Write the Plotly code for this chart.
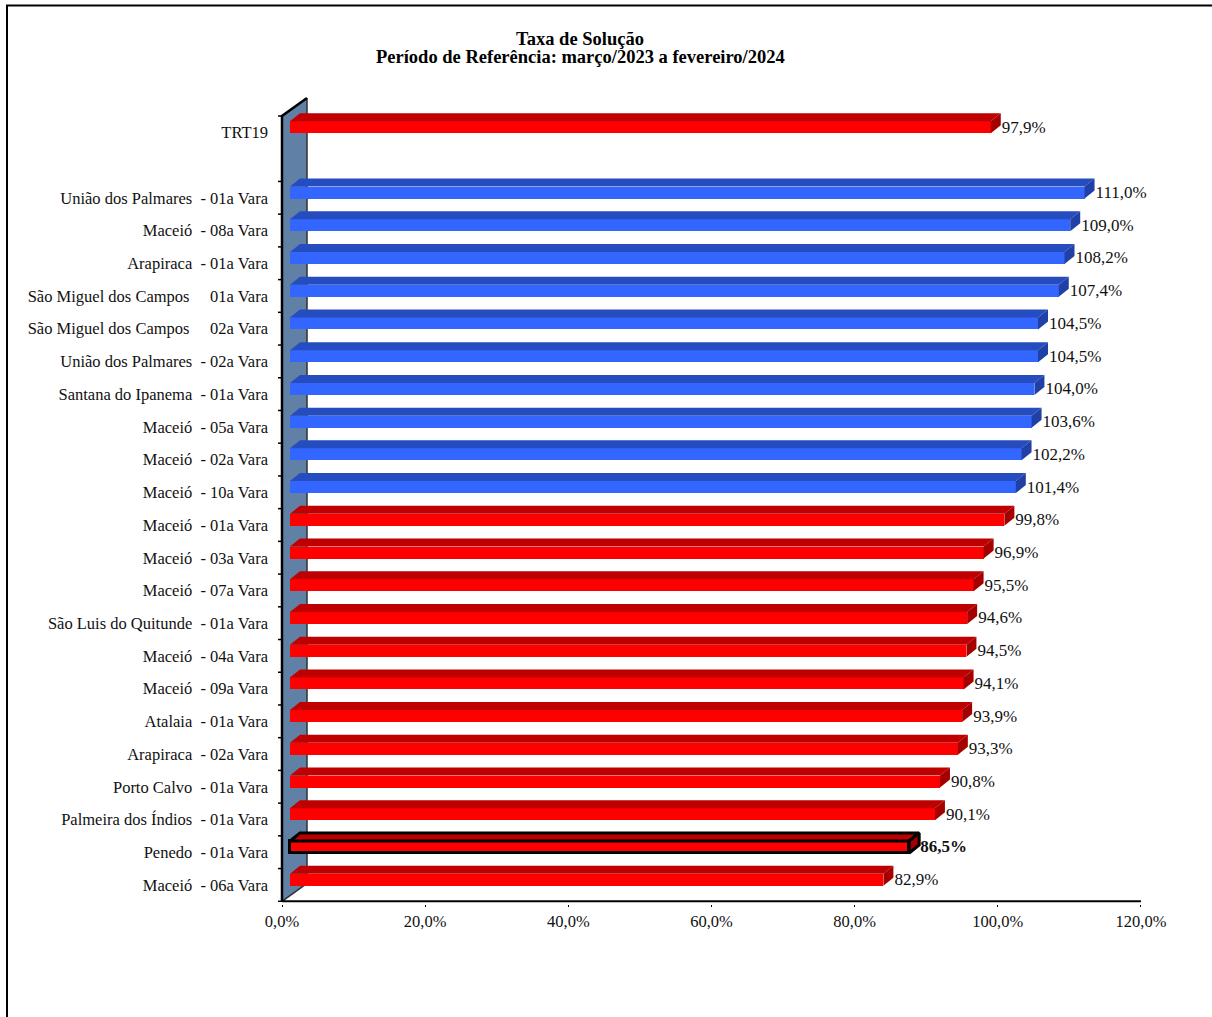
import plotly.graph_objects as go

# ---- data ----
categories = [
    "TRT19", "",
    "União dos Palmares\u00a0\u00a0- 01a Vara", "Maceió\u00a0\u00a0- 08a Vara", "Arapiraca\u00a0\u00a0- 01a Vara",
    "São Miguel dos Campos\u00a0\u00a0\u00a0\u00a0\u00a001a Vara", "São Miguel dos Campos\u00a0\u00a0\u00a0\u00a0\u00a002a Vara",
    "União dos Palmares\u00a0\u00a0- 02a Vara", "Santana do Ipanema\u00a0\u00a0- 01a Vara", "Maceió\u00a0\u00a0- 05a Vara",
    "Maceió\u00a0\u00a0- 02a Vara", "Maceió\u00a0\u00a0- 10a Vara", "Maceió\u00a0\u00a0- 01a Vara", "Maceió\u00a0\u00a0- 03a Vara",
    "Maceió\u00a0\u00a0- 07a Vara", "São Luis do Quitunde\u00a0\u00a0- 01a Vara", "Maceió\u00a0\u00a0- 04a Vara",
    "Maceió\u00a0\u00a0- 09a Vara", "Atalaia\u00a0\u00a0- 01a Vara", "Arapiraca\u00a0\u00a0- 02a Vara",
    "Porto Calvo\u00a0\u00a0- 01a Vara", "Palmeira dos Índios\u00a0\u00a0- 01a Vara", "Penedo\u00a0\u00a0- 01a Vara",
    "Maceió\u00a0\u00a0- 06a Vara",
]
values = [97.9, None, 111.0, 109.0, 108.2, 107.4, 104.5, 104.5, 104.0, 103.6, 102.2, 101.4,
          99.8, 96.9, 95.5, 94.6, 94.5, 94.1, 93.9, 93.3, 90.8, 90.1, 86.5, 82.9]
highlight = "Penedo\u00a0\u00a0- 01a Vara"
x_ticks = [0, 20, 40, 60, 80, 100, 120]
x_tick_labels = ["0,0%", "20,0%", "40,0%", "60,0%", "80,0%", "100,0%", "120,0%"]
title_lines = ["Taxa de Solução", "Período de Referência: março/2023 a fevereiro/2024"]

# ---- geometry: pixels -> data units ----
PX_X = 7.158
PX_Y = 32.72
WALL_DX, WALL_DY = 25 / PX_X, 18 / PX_Y
FRONT_DX, FRONT_DY = 8 / PX_X, 5.2 / PX_Y
DEPTH_DX, DEPTH_DY = 10 / PX_X, 8 / PX_Y
BAR_H = 12 / PX_Y
X0_PX, Y0_PX = 282, 116
L, R, T, B = 276, 1147, 90, 904
W, H = 1212, 1017
n = len(categories)
SERIF = "Liberation Serif"

pos = [i + 0.5 for i in range(n)]
ys = [p - FRONT_DY for p in pos]
idx = [i for i, v in enumerate(values) if v is not None]


def is_hi(i):
    return categories[i] == highlight


def col(i, red, blue):
    return blue if values[i] >= 100 else red


fig = go.Figure()

# front faces
fig.add_trace(go.Bar(
    orientation="h",
    y=[ys[i] for i in idx],
    x=[values[i] for i in idx],
    base=FRONT_DX,
    width=BAR_H,
    marker=dict(
        color=[col(i, "#FF0000", "#3366FF") for i in idx],
        line=dict(color="#000000", width=[3 if is_hi(i) else 0 for i in idx]),
    ),
    hoverinfo="skip", showlegend=False,
))


def faces(sel, face):
    xs, yy = [], []
    for i in sel:
        v = values[i]
        xa = FRONT_DX
        xb = FRONT_DX + v
        yt = ys[i] - BAR_H / 2
        yb = ys[i] + BAR_H / 2
        if face == "top":
            px = [xa, xb, xb + DEPTH_DX, xa + DEPTH_DX, xa]
            py = [yt, yt, yt - DEPTH_DY, yt - DEPTH_DY, yt]
        else:
            px = [xb, xb + DEPTH_DX, xb + DEPTH_DX, xb, xb]
            py = [yt, yt - DEPTH_DY, yb - DEPTH_DY, yb, yt]
        xs += px + [None]
        yy += py + [None]
    return xs, yy


groups = [
    ([i for i in idx if values[i] >= 100], "#264DBF", "#2040A5", None),
    ([i for i in idx if values[i] < 100 and not is_hi(i)], "#BF0000", "#A50000", None),
    ([i for i in idx if is_hi(i)], "#BF0000", "#A50000", "#000000"),
]
for sel, c_top, c_side, outline in groups:
    for face, c in (("top", c_top), ("side", c_side)):
        xs, yy = faces(sel, face)
        fig.add_trace(go.Scatter(
            x=xs, y=yy, mode="lines", fill="toself", fillcolor=c,
            line=dict(color=outline or c, width=3 if outline else 0),
            hoverinfo="skip", showlegend=False,
        ))

# value labels
LABEL_DX = 19 / PX_X
fig.add_trace(go.Scatter(
    x=[values[i] + LABEL_DX for i in idx],
    y=[pos[i] - 4 / PX_Y for i in idx],
    mode="text",
    text=[("<b>%s</b>" if is_hi(i) else "%s") % (f"{values[i]:.1f}".replace(".", ",") + "%") for i in idx],
    textposition="middle right",
    textfont=dict(family=SERIF, size=17, color="#111111"),
    hoverinfo="skip", showlegend=False, cliponaxis=False,
))

# axis lines and tick marks
tick_y = [b for b in range(n + 1) if b != 1]
tx, ty = [], []
for b in tick_y:
    tx += [-4 / PX_X, 0, None]
    ty += [b, b, None]
fig.add_trace(go.Scatter(x=tx, y=ty, mode="lines", line=dict(color="#000000", width=1.5),
                         hoverinfo="skip", showlegend=False))
fig.add_trace(go.Scatter(x=[0, x_ticks[-1]], y=[n, n], mode="lines", line=dict(color="#000000", width=2),
                         hoverinfo="skip", showlegend=False))

# back wall
wall_path = f"M 0 0 L {WALL_DX} {-WALL_DY} L {WALL_DX} {n - WALL_DY} L 0 {n} Z"
left_path = f"M 0 {n} L 0 0 L {WALL_DX} {-WALL_DY}"
right_path = f"M {WALL_DX} {-WALL_DY} L {WALL_DX} {n - WALL_DY}"
base_path = f"M 0 {n} L {WALL_DX} {n - WALL_DY}"
shapes = [
    dict(type="path", path=wall_path, xref="x", yref="y", fillcolor="#6080A5", line_width=0, layer="below"),
    dict(type="path", path=right_path, xref="x", yref="y", line=dict(color="#303030", width=1.5), layer="below"),
    dict(type="path", path=base_path, xref="x", yref="y", line=dict(color="#303030", width=1.5), layer="below"),
    dict(type="path", path=left_path, xref="x", yref="y", line=dict(color="#000000", width=2.5), layer="below"),
    # chart-area border, running off the page on the right and bottom
    dict(type="rect", xref="paper", yref="paper", x0=(7 - L) / (R - L), x1=(W + 20 - L) / (R - L),
         y0=(B - (H + 20)) / (B - T), y1=(B - 5.5) / (B - T), line=dict(color="#000000", width=2), layer="below"),
]

fig.update_layout(
    width=W, height=H,
    margin=dict(l=L, r=W - R, t=T, b=H - B, autoexpand=False),
    paper_bgcolor="#FFFFFF", plot_bgcolor="rgba(0,0,0,0)",
    showlegend=False, shapes=shapes, bargap=0,
    font=dict(family=SERIF, color="#111111", size=16),
    title=dict(
        text=f"<b>{title_lines[0]}</b>",
        x=580 / W, xanchor="center", xref="container",
        y=1 - 38.5 / H, yanchor="middle", yref="container",
        font=dict(family=SERIF, size=18.5, color="#000000"),
    ),
    annotations=[dict(
        text=f"<b>{title_lines[1]}</b>",
        xref="paper", yref="paper", x=(580 - L) / (R - L), y=(B - 57.5) / (B - T),
        xanchor="center", yanchor="middle", showarrow=False,
        font=dict(family=SERIF, size=18.5, color="#000000"),
    )],
    xaxis=dict(
        range=[(L - X0_PX) / PX_X, (R - X0_PX) / PX_X],
        tickmode="array", tickvals=x_ticks, ticktext=x_tick_labels,
        ticks="outside", ticklen=2, tickwidth=1, tickcolor="#000000",
        showgrid=False, zeroline=False, showline=False,
        tickfont=dict(family=SERIF, size=16.5, color="#111111"),
    ),
    yaxis=dict(
        range=[(B - Y0_PX) / PX_Y, (T - Y0_PX) / PX_Y],
        tickmode="array", tickvals=pos, ticktext=categories,
        ticks="", ticklabelstandoff=7,
        showgrid=False, zeroline=False, showline=False,
        tickfont=dict(family=SERIF, size=16.5, color="#111111"),
    ),
)

fig.write_html("out.html", config=dict(displayModeBar=False),
               post_script="document.body.style.margin='0';document.documentElement.style.overflow='hidden';")
